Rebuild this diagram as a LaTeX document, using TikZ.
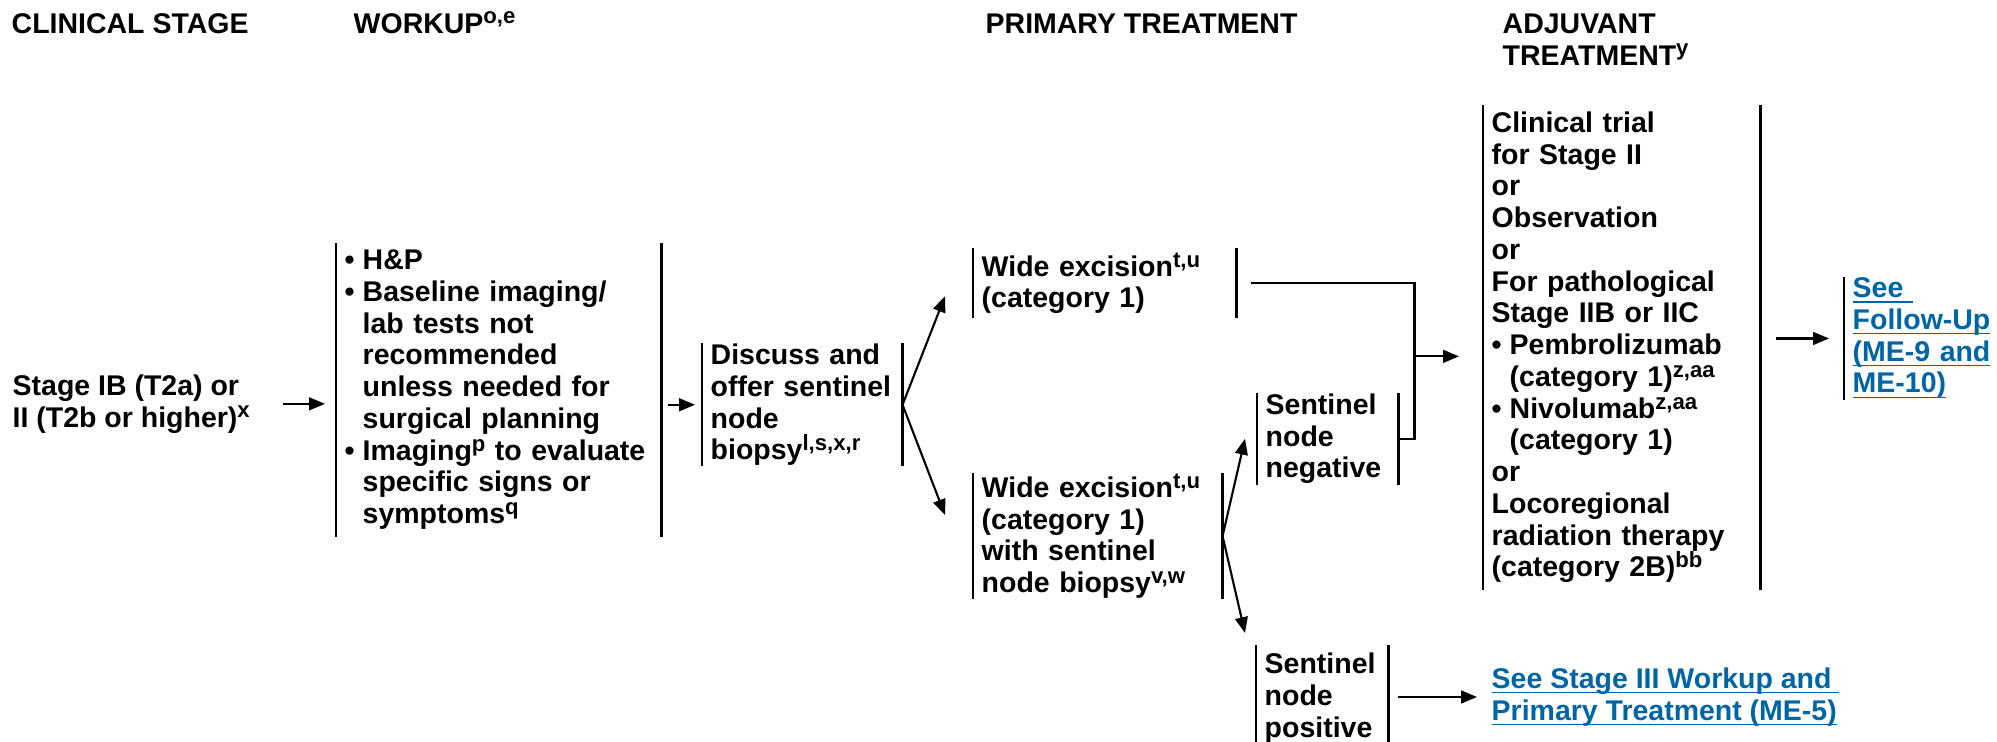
\documentclass[tikz,border=0pt]{standalone}
\usepackage{amsmath}
\usepackage{fontspec}
\setmainfont{Liberation Sans}
\usetikzlibrary{arrows.meta}
\definecolor{linkblue}{RGB}{0,101,164}
\newcommand{\bul}{\makebox[0.18cm][l]{\textbullet}}
\newcommand{\ind}{\hspace*{0.18cm}}
\newcommand{\up}[1]{\raisebox{0.32em}{\fontsize{6.3}{7}\selectfont #1}}
\newcommand{\lnk}[1]{\underline{\smash[b]{#1}}}
\tikzset{txt/.style = {font=\fontsize{8.1}{9.03}\selectfont\bfseries, inner sep=0pt, align=left}}
\tikzset{hdr/.style = {txt, anchor=base west}}
\tikzset{barline/.style = {draw, line width=0.75pt}}
\tikzset{brk/.style = {txt, anchor=north west, inner xsep=0.08cm,
    append after command={(\tikzlastnode.north west) edge[barline] (\tikzlastnode.south west)
                          (\tikzlastnode.north east) edge[barline] (\tikzlastnode.south east)}}}
\tikzset{brkleft/.style = {txt, anchor=north west, inner xsep=0.08cm,
    append after command={(\tikzlastnode.north west) edge[barline] (\tikzlastnode.south west)}}}
\tikzset{arr/.style = {-{Triangle[length=4.5pt,width=3.6pt]}, line width=0.6pt}}
\tikzset{ln/.style = {line width=0.6pt}}

\begin{document}
\begin{tikzpicture}[x=0.01cm, y=-0.01cm]
    \useasboundingbox (0,0) rectangle (1997,741);
    % column heads
    \node[hdr](hstage)at(11,33){CLINICAL STAGE};
    \node[hdr](hworkup)at(353,33){WORKUP\up{o,e}};
    \node[hdr](hprimary)at(985,33){PRIMARY TREATMENT};
    \node[hdr](hadjuvant)at(1502,65){ADJUVANT\\TREATMENT\up{y}};
    % boxes
    \node[hdr](stage)at(12,427){Stage IB (T2a) or\\II (T2b or higher)\up{x}};
    \node[brk, text width=3.08cm, minimum height=2.92cm](workup)at(336,243){\bul H\&P\\
        \bul Baseline imaging/\\ \ind lab tests not\\ \ind recommended\\ \ind unless needed for\\ \ind surgical planning\\
        \bul Imaging\up{p} to evaluate\\ \ind specific signs or\\ \ind symptoms\up{q}};
    \node[brk, text width=1.83cm, minimum height=1.22cm](discuss)at(702,343){Discuss and\\offer sentinel\\node\\biopsy\up{l,s,x,r}};
    \node[brk, text width=2.46cm, minimum height=0.69cm](wideA)at(973,248){Wide excision\up{t,u}\\(category 1)};
    \node[brk, text width=2.32cm, minimum height=1.23cm](wideB)at(973,473){Wide excision\up{t,u}\\(category 1)\\with sentinel\\node biopsy\up{v,w}};
    \node[brk, text width=1.24cm, minimum height=0.84cm](negative)at(1257,393){Sentinel\\node\\negative};
    \node[brk, text width=1.15cm, minimum height=1.05cm](positive)at(1256,645){Sentinel\\node\\positive};
    \node[brk, text width=2.60cm, minimum height=4.83cm](adjuvant)at(1483,105){Clinical trial\\for Stage II\\or\\Observation\\or\\
        For pathological\\Stage IIB or IIC\\\bul Pembrolizumab\\ \ind (category 1)\up{z,aa}\\
        \bul Nivolumab\up{z,aa}\\ \ind (category 1)\\or\\Locoregional\\radiation therapy\\(category 2B)\up{bb}};
    \node[brkleft, text width=1.45cm, minimum height=1.15cm, text=linkblue](followup)at(1844,277){\lnk{See\ }\\\lnk{Follow-Up}\\\lnk{(ME-9 and}\\\lnk{ME-10)}};
    \node[hdr, text=linkblue](seestage)at(1491,720){\lnk{See Stage III Workup and\ }\\\lnk{Primary Treatment (ME-5)}};
    % connectors
    \draw[arr]([xshift=0.33cm]stage.east)--([xshift=-0.11cm]workup.west |- stage.east);
    \draw[arr]([xshift=0.06cm]workup.east |- discuss.west)--([xshift=-0.07cm]discuss.west);
    \draw[arr](discuss.east)--([xshift=-0.28cm,yshift=-0.13cm]wideA.west);
    \draw[arr](discuss.east)--([xshift=-0.28cm,yshift=0.21cm]wideB.west);
    \draw[arr](wideB.east)--([xshift=-0.12cm]negative.west);
    \draw[arr](wideB.east)--([xshift=-0.11cm,yshift=0.12cm]positive.north west);
    \draw[ln]([xshift=0.14cm]wideA.east)-|([xshift=0.16cm]negative.east)--(negative.east);
    \draw[arr]([xshift=0.16cm,yshift=-0.09cm]negative.east |- adjuvant.west)--([xshift=-0.24cm,yshift=-0.09cm]adjuvant.west);
    \draw[arr]([xshift=0.15cm]adjuvant.east |- followup.west)--([xshift=-0.15cm]followup.west);
    \draw[arr]([xshift=0.09cm]positive.east |- seestage.west)--([xshift=-0.14cm]seestage.west);
\end{tikzpicture}
\end{document}
